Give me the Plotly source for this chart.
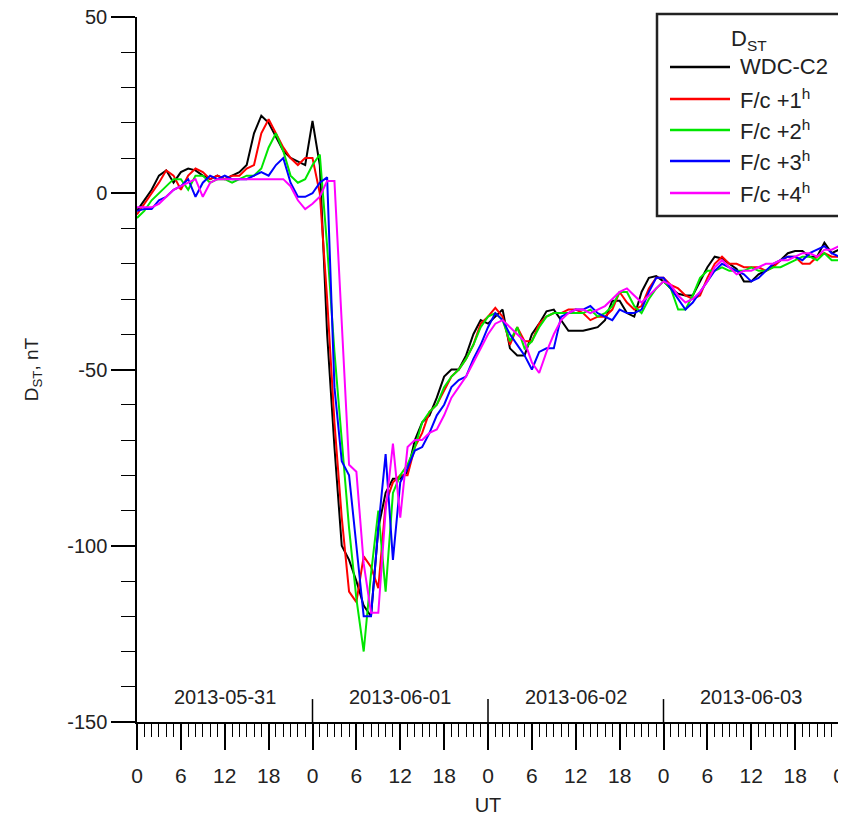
import plotly.graph_objects as go

# ---------------- data (hourly, 2013-05-31 00 UT .. 2013-06-04 00 UT) ----------------
hours = list(range(0, 97))

wdc_c2 = [
    -5, -2, 1, 5, 6.5, 3, 6, 7, 6.5, 5, 4, 5,
    4, 5, 6, 8, 17, 22, 20, 16, 12, 10, 9, 8,
    20.5, 8, -40, -72, -100, -104, -110, -117, -120, -95, -85, -81,
    -81, -79, -70, -65, -63, -58, -52, -50, -50, -46, -40, -36,
    -37, -35, -33, -44, -46, -46, -40, -37, -33.5, -33, -36, -39,
    -39, -39, -38.5, -38, -36, -30.5, -30.5, -34, -35, -28, -24, -23.5,
    -25, -27, -28.5, -29, -29, -25, -21, -18, -18.5, -20, -21.5, -25,
    -25, -23, -22, -20.5, -19, -17, -16.4, -16.4, -18, -18, -14, -17,
    -16,
]

fc_1h = [
    -6, -3, 0, 3, 6.5, 5, 1, 5, 7, 6, 4, 5,
    4, 5, 5, 7, 8, 17, 21, 17, 13, 10, 8, 10,
    10, 0, -30, -65, -92, -113, -116, -103, -106, -112, -88, -82,
    -80, -80, -72, -68, -62, -60, -56, -52, -50, -47, -43, -37,
    -35, -32.5, -35, -43, -38, -42, -42, -37, -35, -34, -34, -33,
    -33, -34, -36, -35, -35, -33, -28, -31, -33, -32, -27, -24,
    -24, -26, -27, -29, -30, -29, -24, -20, -18, -20, -20, -21,
    -21, -21, -22, -21, -19, -18, -18, -20, -20, -18, -17, -18,
    -18,
]

fc_2h = [
    -7, -5, -2, 0, 2, 4, 4, 1, 5, 5, 3, 4,
    4, 3, 4, 5, 5, 7, 13, 17, 12, 5, 3, 4,
    8, 11, -15, -45, -70, -95, -115, -130, -108, -90, -113, -85,
    -80, -77, -72, -65, -62, -60, -55, -52, -50, -47, -43, -38,
    -35, -34, -36, -42, -38, -44, -42, -38, -35, -34, -34, -34,
    -34, -34, -33, -35, -34, -32, -28, -28, -32, -34, -30, -27,
    -25, -27, -33, -33, -29, -24, -22, -22, -21, -22, -22, -22,
    -21, -22, -22, -21, -21, -20, -19, -18, -18, -19, -17, -19,
    -19,
]

fc_3h = [
    -5, -4.5, -4.5, -2, -1, 1, 2, 4, -1, 3, 5, 4,
    5, 4, 4, 4, 5, 6, 5, 8, 10, 3, -1, -1,
    0, 3, 4.5, -55, -76, -80, -100, -120, -120, -95, -74, -104,
    -82, -78, -73, -72, -68, -63, -60, -55, -53, -52, -47, -43,
    -38, -34, -36, -40, -43, -46, -50, -45, -44, -44, -35, -34,
    -33, -33, -32, -34, -35, -36, -33, -34, -34, -33, -28, -24,
    -24, -27, -30, -33, -31, -28, -25, -22, -20, -21, -22, -23,
    -25, -24, -22, -20, -19, -18, -18, -19, -17, -16, -15, -17,
    -18,
]

fc_4h = [
    -4, -4, -4, -3, -1, 1, 2, 3, 4, -1, 3, 4,
    4, 4, 4, 4, 4, 4, 4, 4, 4, 2, -2, -4.5,
    -3, -1, 3.5, 3.5, -38, -77, -79, -105, -119, -119, -90, -71,
    -92, -72, -70, -70, -68, -67, -63, -58, -55, -52, -48, -44,
    -40, -37, -36, -38, -40, -42, -48, -51, -45, -40, -36, -34,
    -33, -33, -34, -33, -32, -30, -28, -27, -29, -31, -29, -27,
    -25, -26, -29, -31, -30, -28, -25, -21, -19, -21, -23, -22,
    -22, -21, -20, -20, -19, -19, -18, -17, -17, -18, -16, -16,
    -15,
]

series_names = ["WDC-C2", "F/c +1<sup>h</sup>", "F/c +2<sup>h</sup>",
                "F/c +3<sup>h</sup>", "F/c +4<sup>h</sup>"]
series_values = [wdc_c2, fc_1h, fc_2h, fc_3h, fc_4h]
series_colors = ["#000000", "#ff0000", "#00e600", "#0000ff", "#ff00ff"]

x_tickvals = list(range(0, 97, 6))
x_ticktext = ["0", "6", "12", "18"] * 4 + ["0"]
y_tickvals = [-150, -100, -50, 0, 50]
y_ticktext = ["-150", "-100", "-50", "0", "50"]
day_labels = ["2013-05-31", "2013-06-01", "2013-06-02", "2013-06-03"]
day_centers = [12, 36, 60, 84]
day_bounds = [24, 48, 72, 96]

# ---------------- layout geometry (page pixels; the page body adds an 8px offset) ----------------
OFF = 8
W, H = 846 - OFF, 822 - OFF
PL, PR, PT, PB = 137, 839, 17, 722          # plot area in page pixels
L, T = PL - OFF, PT - OFF
R, B = W - (PR - OFF), H - (PB - OFF)
PW, PH = PR - PL, PB - PT
FONT = "Liberation Sans, Arial, sans-serif"


def px(xp):
    return (xp - PL) / PW


def py(yp):
    return (PB - yp) / PH


fig = go.Figure()
for name, vals, col in zip(series_names, series_values, series_colors):
    fig.add_trace(go.Scatter(x=hours, y=vals, mode="lines", name=name,
                             line=dict(color=col, width=2), showlegend=False))

shapes = []
annotations = []

# day separators rising from the time axis
for d in day_bounds:
    shapes.append(dict(type="line", xref="x", yref="y", x0=d, x1=d,
                       y0=-150, y1=-143.5, line=dict(color="black", width=1.5)))
for lab, c in zip(day_labels, day_centers):
    annotations.append(dict(x=c, y=-143, xref="x", yref="y", text=lab,
                            showarrow=False, font=dict(family=FONT, size=20, color="#222"),
                            xanchor="center", yanchor="middle"))

# legend box (drawn)
shapes.append(dict(type="rect", xref="paper", yref="paper",
                   x0=px(657), x1=px(843), y0=py(216), y1=py(14),
                   line=dict(color="#222", width=2.5), fillcolor="white", layer="above"))
annotations.append(dict(x=px(749), y=py(40), xref="paper", yref="paper",
                        text="D<sub>ST</sub>", showarrow=False,
                        font=dict(family=FONT, size=22, color="#222"),
                        xanchor="center", yanchor="middle"))
rows = [67, 99, 130, 161, 193]
for name, col, yr in zip(series_names, series_colors, rows):
    shapes.append(dict(type="line", xref="paper", yref="paper",
                       x0=px(670), x1=px(730), y0=py(yr), y1=py(yr),
                       line=dict(color=col, width=2.5), layer="above"))
    annotations.append(dict(x=px(738), y=py(yr), xref="paper", yref="paper",
                            text=name, showarrow=False,
                            font=dict(family=FONT, size=22, color="#222"),
                            xanchor="left", yanchor="middle"))

fig.update_layout(
    width=W, height=H,
    margin=dict(l=L, r=R, t=T, b=B, pad=0, autoexpand=False),
    paper_bgcolor="white", plot_bgcolor="white",
    font=dict(family=FONT, size=20, color="#222"),
    shapes=shapes, annotations=annotations,
    showlegend=False,
)
fig.update_xaxes(
    range=[0, 96], showgrid=False, zeroline=False, automargin=False,
    showline=True, linecolor="black", linewidth=1.5,
    tickvals=x_tickvals, ticktext=x_ticktext,
    ticks="outside", ticklen=26, tickwidth=1.5, tickcolor="black",
    minor=dict(dtick=1, ticks="outside", ticklen=13, tickwidth=1.2, tickcolor="black"),
    ticklabelstandoff=8, ticklabeloverflow="allow",
    tickfont=dict(family=FONT, size=21, color="#222"),
    title=dict(text="UT", font=dict(family=FONT, size=20, color="#222"), standoff=12),
)
fig.update_yaxes(
    range=[-150, 50], showgrid=False, zeroline=False, automargin=False,
    showline=True, linecolor="black", linewidth=1.5,
    tickvals=y_tickvals, ticktext=y_ticktext,
    ticks="outside", ticklen=24, tickwidth=1.5, tickcolor="black",
    minor=dict(tickvals=list(range(-150, 51, 10)), ticks="outside", ticklen=14,
               tickwidth=1.2, tickcolor="black"),
    ticklabeloverflow="allow",
    tickfont=dict(family=FONT, size=20, color="#222"),
    title=dict(text="D<sub>ST</sub>, nT", font=dict(family=FONT, size=19, color="#222"), standoff=24),
)

fig.write_html("out.html")
